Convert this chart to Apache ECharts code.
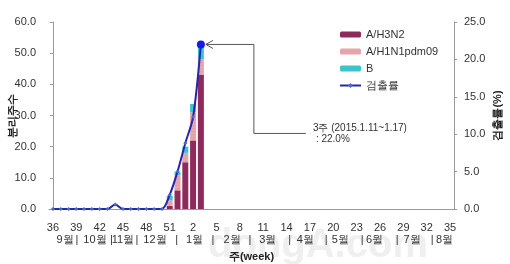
<!DOCTYPE html>
<html><head><meta charset="utf-8">
<script src="https://cdn.jsdelivr.net/npm/echarts@6/dist/echarts.min.js"></script>
<style>html,body{margin:0;padding:0;background:#fff}#c{width:510px;height:264px}</style>
</head><body><div id="c"></div>
<script>
// Weeks 36..52 (2014) then 1..35 (2015)
const weeks = [36,37,38,39,40,41,42,43,44,45,46,47,48,49,50,51,52,1,2,3,4,5,6,7,8,9,10,11,12,13,14,15,16,17,18,19,20,21,22,23,24,25,26,27,28,29,30,31,32,33,34,35];
const h3n2 =  [0,0,0,0,0,0,0,0,0,0,0,0,0,0,0,1.0,6.0,15.0,22.0,43.0];
const h1n1 =  [0,0,0,0,0,0,0,0,0,0,0,0,0,0,0,1.8,4.8,3.0,9.0,5.0];
const bType = [0,0,0,0,0,0,0,0,0,0,0,0,0,0,0,1.5,1.2,2.0,2.7,4.0];
const rate =  [0,0,0,0,0,0,0,0,0.6,0,0,0,0,0,0,1.9,5.0,8.8,12.3,22.0];
const leftTicks = [0,10,20,30,40,50,60];
const rightTicks = [0,5,10,15,20,25];
// month row: [position in week-index units, text]
const monthRow = [[1.55,'9월'],[3.1,'|'],[5.4,'10월'],[7.5,'|'],[9.0,'11월'],[10.8,'|'],[13.1,'12월'],[15.9,'|'],[18.2,'1월'],[20.55,'|'],[23.0,'2월'],[25.3,'|'],[27.6,'3월'],[30.4,'|'],[32.4,'4월'],[35.1,'|'],[36.9,'5월'],[39.7,'|'],[41.3,'6월'],[44.2,'|'],[46.1,'7월'],[48.7,'|'],[50.3,'8월']];
const seriesNames = ['A/H3N2','A/H1N1pdm09','B','검출률'];
const annText1 = '3주 (2015.1.11~1.17)';
const annText2 = ': 22.0%';

const font = 'Liberation Sans, Arial, sans-serif';
const chart = echarts.init(document.getElementById('c'));
const grid = {left:49, right:56, top:22, bottom:55, containLabel:false, outerBoundsMode:'none'};
chart.setOption({
  backgroundColor:'#fff',
  animation:false,
  textStyle:{fontFamily:font},
  grid: grid,
  legend:{
    orient:'vertical', left:334, top:24, itemGap:6, itemWidth:21, itemHeight:6,
    textStyle:{fontSize:11, color:'#333', fontFamily:font},
    data: seriesNames
  },
  xAxis:[{
    type:'category', data:weeks.map(String), boundaryGap:true,
    axisLine:{lineStyle:{color:'#999'}},
    axisTick:{inside:true, length:3, interval:0, lineStyle:{color:'#999'}},
    axisLabel:{interval:2, margin:13, fontSize:11, color:'#333'},
    name:'주(week)', nameLocation:'middle', nameGap:42, nameMoveOverlap:false,
    nameTextStyle:{fontSize:11, color:'#222', fontWeight:'bold'}
  },{
    type:'value', min:-0.5, max:weeks.length-0.5, show:false
  }],
  yAxis:[{
    type:'value', min:0, max:60, interval:10,
    axisLine:{show:true, lineStyle:{color:'#999'}},
    axisTick:{show:true, length:3, lineStyle:{color:'#999'}},
    splitLine:{show:false},
    axisLabel:{formatter:v=>v.toFixed(1), fontSize:11, color:'#333', margin:13},
    name:'분리주수', nameLocation:'middle', nameRotate:90, nameGap:31, nameMoveOverlap:false,
    nameTextStyle:{fontSize:11, color:'#222', fontWeight:'bold'}
  },{
    type:'value', min:0, max:25, interval:5, position:'right',
    axisLine:{show:true, lineStyle:{color:'#999'}},
    axisTick:{show:true, length:3, lineStyle:{color:'#999'}},
    splitLine:{show:false},
    axisLabel:{formatter:v=>v.toFixed(1), fontSize:11, color:'#333', margin:10},
    name:'검출률(%)', nameLocation:'middle', nameRotate:90, nameGap:38, nameMoveOverlap:false,
    nameTextStyle:{fontSize:11, color:'#222', fontWeight:'bold'}
  }],
  series:[
    {name:seriesNames[0], type:'bar', stack:'s', barWidth:6, data:h3n2, itemStyle:{color:'#8e2a5c'}},
    {name:seriesNames[1], type:'bar', stack:'s', barWidth:6, data:h1n1,
      itemStyle:{color:'#e3a0a6', decal:{symbol:'circle', symbolSize:0.6, color:'rgba(255,255,255,0.7)', dashArrayX:[[1,0],[1,0]], dashArrayY:[2,1]}}},
    {name:seriesNames[2], type:'bar', stack:'s', barWidth:6, data:bType, itemStyle:{color:'#3cc4cc'}},
    {name:seriesNames[3], type:'line', yAxisIndex:1, smooth:0.3,
      data: rate.map((v,i)=> i===rate.length-1 ? {value:v, symbol:'circle', symbolSize:8, itemStyle:{color:'#1a1ae6'}} : v),
      symbol:'diamond', symbolSize:4, showSymbol:true,
      lineStyle:{color:'#2626a8', width:2}, itemStyle:{color:'#4a6ad0'}}
  ]
});

// annotation + month row
const p = chart.convertToPixel({xAxisIndex:0, yAxisIndex:1}, [rate.length-1, rate[rate.length-1]]);
const ax = p[0]+5, ay = p[1];
const vx = ax+48, vy = ay+89, ex = vx+52;
const axisY = chart.convertToPixel({yAxisIndex:0}, 0);
const graphics = [
  {type:'polyline', shape:{points:[[ax,ay],[vx,ay],[vx,vy],[ex,vy]]}, style:{stroke:'#555', lineWidth:1, fill:null}},
  {type:'polyline', shape:{points:[[ax+7,ay-4],[ax,ay],[ax+7,ay+4]]}, style:{stroke:'#555', lineWidth:1, fill:null}},
  {type:'text', left:ex+7, top:vy-10, style:{text:annText1, fontSize:10, fill:'#333', fontFamily:font}},
  {type:'text', left:ex+10, top:vy+1, style:{text:annText2, fontSize:10, fill:'#333', fontFamily:font}},
  {type:'text', left:208, top:226, silent:true, style:{text:'dongA.com', fontSize:40, fontWeight:'bold', fill:'rgba(210,210,210,0.35)', fontFamily:font}}
];
monthRow.forEach(m => {
  const x = chart.convertToPixel({xAxisIndex:1}, m[0]);
  graphics.push({type:'text', x:x, y:axisY+31, style:{text:m[1], fontSize:11, fill:'#333', fontFamily:font, align:'center', verticalAlign:'middle'}});
});
chart.setOption({graphic:graphics});
</script></body></html>
